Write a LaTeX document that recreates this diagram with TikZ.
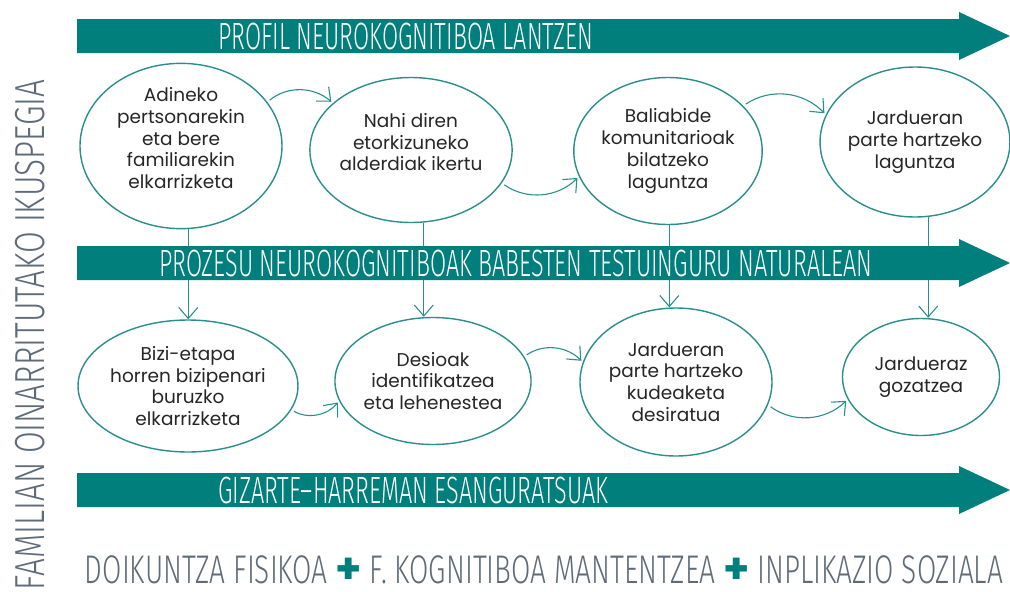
\documentclass[tikz,border=0pt]{standalone}
\usepackage{fontspec}
\usepackage{tikz}
\usetikzlibrary{shapes.geometric,arrows.meta}
\setmainfont{Poppins}
\newfontfamily\handfont[FakeStretch=0.615]{Fira Sans Light}
\newfontfamily\sidefont[FakeStretch=0.75]{Fira Sans Light}
\newfontfamily\footfont[FakeStretch=0.70]{Fira Sans Light}
\definecolor{bandteal}{HTML}{007F7C}
\definecolor{lineteal}{HTML}{2A8F8C}
\definecolor{slategray}{HTML}{5E6B78}

\begin{document}
\begin{tikzpicture}[x=1pt, y=-1pt,
    bubble/.style={ellipse, draw=lineteal, line width=1.4pt, fill=white,
      inner sep=0pt, align=center, text=black!85,
      font=\fontsize{18.5}{21.7}\selectfont},
    flow/.style={draw=lineteal, line width=1.1pt,
      -{Straight Barb[length=11pt, width=19pt]}},
    hop/.style={flow, shorten <=3pt, shorten >=2pt},
    bandtext/.style={text=white, anchor=west, inner sep=0pt,
      font=\handfont\fontsize{38}{38}\selectfont},
    greytext/.style={text=slategray, inner sep=0pt, anchor=base}]
    \path [use as bounding box]
      (0, 0) rectangle (1010, 592);

    \newcommand{\bandshape}{(77, -17) -- (959, -17) -- (959, -24)
      -- (1010, 0) -- (959, 24) -- (959, 17) -- (77, 17) -- cycle}
    \newcommand{\plusmark}{\smash{\normalfont\bfseries
      \fontsize{42}{42}\selectfont\color{bandteal}+}}

    \node[bubble, minimum width=202, minimum height=142] (adineko)
      at (181, 146) {Adineko\\pertsonarekin\\eta bere\\familiarekin\\elkarrizketa\\[-5.7pt]};
    \node[bubble, minimum width=172, minimum height=145] (nahi)
      at (411, 150) {Nahi diren\\etorkizuneko\\alderdiak ikertu\\[-5.7pt]};
    \node[bubble, minimum width=187, minimum height=147] (baliabide)
      at (668, 151) {Baliabide\\komunitarioak\\bilatzeko\\laguntza};
    \node[bubble, minimum width=185, minimum height=150] (laguntza)
      at (915, 142) {Jardueran\\parte hartzeko\\laguntza};
    \node[bubble, minimum width=187, minimum height=132] (bizi)
      at (188, 386) {Bizi-etapa\\horren bizipenari\\buruzko\\elkarrizketa};
    \node[bubble, minimum width=187, minimum height=127] (desioak)
      at (433, 381) {Desioak\\identifikatzea\\eta lehenestea};
    \node[bubble, minimum width=192, minimum height=148] (kudeaketa)
      at (676, 382) {Jardueran\\parte hartzeko\\kudeaketa\\desiratua};
    \node[bubble, minimum width=157, minimum height=117] (gozatzea)
      at (921, 377) {Jardueraz\\gozatzea};

    \draw[flow] (adineko.-85) -- (adineko.-85 |- bizi.north);
    \draw[flow] (nahi.-80) -- (nahi.-80 |- desioak.north);
    \draw[flow] (baliabide.-89) -- (baliabide.-89 |- kudeaketa.north);
    \draw[flow] (laguntza.-80) -- (laguntza.-80 |- gozatzea.north);

    \draw[hop] (adineko.27) to[bend left=40] (nahi.149);
    \draw[hop] (nahi.-20) to[bend right=40] (baliabide.196);
    \draw[hop] (baliabide.31) to[bend left=40] (laguntza.163);
    \draw[hop] (bizi.-13) to[bend right=40] (desioak.192);
    \draw[hop] (desioak.15) to[bend left=40] (kudeaketa.168);
    \draw[hop] (kudeaketa.-14) to[bend right=40] (gozatzea.197);

    \foreach \yd in { 36, 263, 490 } {
      \path[fill=bandteal, yshift=-\yd pt] \bandshape;
    }

    \node[bandtext] (profil) at (218, 36) {PROFIL NEUROKOGNITIBOA LANTZEN};
    \node[bandtext] (prozesu) at (159, 263)
      {PROZESU NEUROKOGNITIBOAK BABESTEN TESTUINGURU NATURALEAN};
    \node[bandtext] (gizarte) at (218, 490) {GIZARTE–HARREMAN ESANGURATSUAK};

    \node[greytext, rotate=90, font=\sidefont\fontsize{42}{42}\selectfont]
      (familian) at (45, 335) {FAMILIAN OINARRITUTAKO IKUSPEGIA};
    \node[greytext, font=\footfont\fontsize{40}{40}\selectfont]
      (oinarriak) at (544, 583)
      {DOIKUNTZA FISIKOA \plusmark{} F. KOGNITIBOA MANTENTZEA
      \plusmark{} INPLIKAZIO SOZIALA};
  \end{tikzpicture}
\end{document}
